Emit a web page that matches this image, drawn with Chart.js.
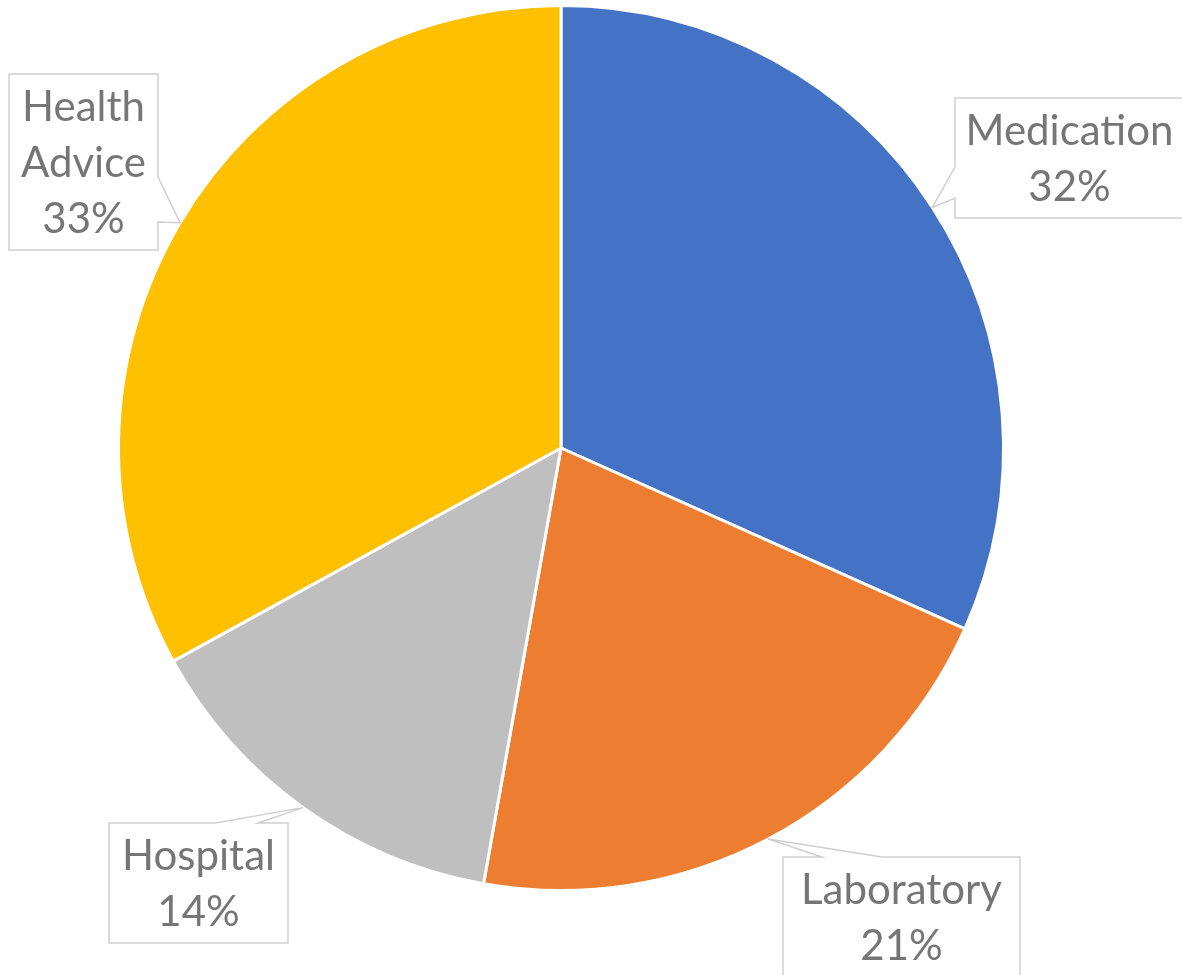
<!DOCTYPE html>
<html>
<head>
<meta charset="utf-8">
<script src="https://cdn.jsdelivr.net/npm/chart.js@4/dist/chart.umd.min.js"></script>
<style>
  html, body { margin: 0; padding: 0; background: #ffffff; }
  #wrap { width: 1182px; height: 975px; position: relative; }
</style>
</head>
<body>
<div id="wrap"><canvas id="c" width="1182" height="975"></canvas></div>
<script>
// ---- data ----
const categories = ["Medication", "Laboratory", "Hospital", "Health Advice"];
const labelLines = [["Medication"], ["Laboratory"], ["Hospital"], ["Health", "Advice"]];
const shares = [31.7, 21.1, 14.2, 33.0];
const colors = ["#4472C4", "#ED7D31", "#BFBFBF", "#FFC000"];

// ---- callout layout (label boxes, not marks) ----
const callouts = [
  { l: 955, t: 98,  r: 1186, b: 218, side: "left",  a: 167, z: 198 },
  { l: 783, t: 857, r: 1020, b: 980, side: "top",   a: 822, z: 882 },
  { l: 109, t: 823, r: 288,  b: 943, side: "top",   a: 215, z: 258 },
  { l: 9,   t: 74,  r: 158,  b: 250, side: "right", a: 177, z: 222 }
];

const calloutPlugin = {
  id: "callouts",
  afterDatasetsDraw(chart) {
    const ctx = chart.ctx;
    const meta = chart.getDatasetMeta(0);
    const total = shares.reduce((s, v) => s + v, 0);
    meta.data.forEach((arc, i) => {
      const p = arc.getProps(["x", "y", "startAngle", "endAngle", "outerRadius"], true);
      const mid = (p.startAngle + p.endAngle) / 2;
      const tx = p.x + Math.cos(mid) * p.outerRadius;
      const ty = p.y + Math.sin(mid) * p.outerRadius;
      const c = callouts[i];
      const pts = [];
      if (c.side === "left") {
        pts.push([c.l, c.t], [c.r, c.t], [c.r, c.b], [c.l, c.b], [c.l, c.z], [tx, ty], [c.l, c.a]);
      } else if (c.side === "right") {
        pts.push([c.l, c.t], [c.r, c.t], [c.r, c.a], [tx, ty], [c.r, c.z], [c.r, c.b], [c.l, c.b]);
      } else {
        pts.push([c.l, c.t], [c.a, c.t], [tx, ty], [c.z, c.t], [c.r, c.t], [c.r, c.b], [c.l, c.b]);
      }
      ctx.save();
      ctx.beginPath();
      pts.forEach((q, k) => k ? ctx.lineTo(q[0], q[1]) : ctx.moveTo(q[0], q[1]));
      ctx.closePath();
      ctx.fillStyle = "#ffffff";
      ctx.fill();
      ctx.lineWidth = 1.5;
      ctx.strokeStyle = "#CFCFCF";
      ctx.stroke();

      const pct = Math.round(shares[i] / total * 100);
      const lines = labelLines[i].concat([pct + "%"]);
      const lh = 56;
      const cx = (c.l + Math.min(c.r, 1184)) / 2;
      const boxB = Math.min(c.b, c.t + 120 + (lines.length - 2) * 56);
      const cy = (c.t + boxB) / 2 + 1;
      ctx.fillStyle = "#767676";
      ctx.font = "42px Lato, 'Open Sans', sans-serif";
      ctx.textAlign = "center";
      ctx.textBaseline = "middle";
      lines.forEach((s, k) => {
        ctx.fillText(s, cx, cy + (k - (lines.length - 1) / 2) * lh);
      });
      ctx.restore();
    });
  }
};

new Chart(document.getElementById("c"), {
  type: "pie",
  data: {
    labels: categories,
    datasets: [{
      data: shares,
      backgroundColor: colors,
      borderColor: "#ffffff",
      borderWidth: 3
    }]
  },
  options: {
    responsive: false,
    animation: false,
    layout: { padding: { left: 117, right: 177, top: 4, bottom: 83 } },
    plugins: {
      legend: { display: false },
      tooltip: { enabled: false }
    }
  },
  plugins: [calloutPlugin]
});
</script>
</body>
</html>
